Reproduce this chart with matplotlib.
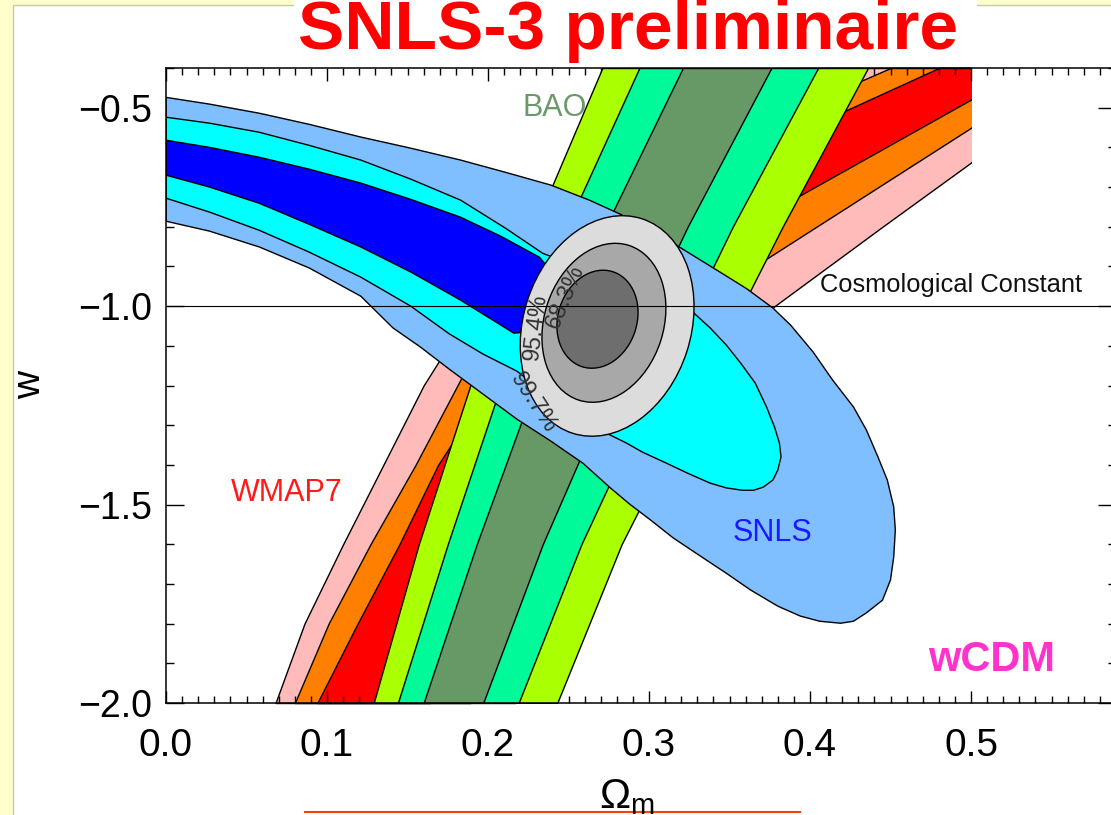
import numpy as np
import matplotlib.pyplot as plt
from matplotlib import font_manager
from matplotlib.lines import Line2D
from matplotlib.patches import Ellipse, Rectangle
from matplotlib.ticker import MultipleLocator
from matplotlib.transforms import Affine2D

# ---- values (Omega_m, w) ----
# BAO bands: Omega_m of each boundary at the given w levels
bao_w = [-2.0, -1.6, -1.2, -0.8, -0.4]
bao_997_lo = [0.129, 0.157, 0.189, 0.229, 0.271]
bao_997_hi = [0.243, 0.283, 0.333, 0.383, 0.436]
bao_954_lo = [0.144, 0.175, 0.208, 0.249, 0.294]
bao_954_hi = [0.219, 0.258, 0.304, 0.352, 0.405]
bao_683_lo = [0.160, 0.193, 0.229, 0.273, 0.321]
bao_683_hi = [0.197, 0.234, 0.277, 0.324, 0.376]

# WMAP7 bands (grid stops at Omega_m = 0.5)
wmap_w = [-2.0, -1.8, -1.6, -1.4, -1.2, -1.0, -0.8, -0.6, -0.4]
wmap_997_lo = [0.068, 0.086, 0.110, 0.135, 0.160, 0.191, 0.270, 0.332, 0.394]
wmap_997_hi = [0.217, 0.235, 0.260, 0.294, 0.332, 0.378, 0.445, 0.513, 0.580]
wmap_954_lo = [0.080, 0.101, 0.127, 0.155, 0.181, 0.207, 0.276, 0.337, 0.450]
wmap_954_hi = [0.189, 0.208, 0.229, 0.254, 0.288, 0.327, 0.404, 0.481, 0.558]
wmap_683_lo = [0.094, 0.119, 0.145, 0.169, 0.201, 0.245, 0.294, 0.372, 0.480]
wmap_683_hi = [0.164, 0.189, 0.214, 0.245, 0.282, 0.332, 0.359, 0.447, 0.535]
wmap_om_max = 0.5

# SNLS contours (closed outlines)
snls_997_om = [0.000, 0.027, 0.058, 0.089, 0.121, 0.152, 0.183, 0.211, 0.239, 0.263,
               0.282, 0.304, 0.324, 0.344, 0.361, 0.377, 0.388, 0.402, 0.414, 0.427,
               0.435, 0.442, 0.448, 0.452, 0.453, 0.452, 0.450, 0.445, 0.435, 0.427,
               0.419, 0.406, 0.394, 0.380, 0.363, 0.348, 0.332, 0.315, 0.301, 0.288,
               0.276, 0.259, 0.239, 0.218, 0.197, 0.176, 0.158, 0.141, 0.121, 0.089,
               0.058, 0.027, 0.000]
snls_997_w = [-0.474, -0.491, -0.514, -0.542, -0.574, -0.602, -0.632, -0.663, -0.695, -0.733,
              -0.768, -0.814, -0.864, -0.914, -0.957, -1.005, -1.048, -1.116, -1.186, -1.254,
              -1.312, -1.378, -1.438, -1.506, -1.564, -1.632, -1.690, -1.741, -1.773, -1.794,
              -1.799, -1.794, -1.781, -1.756, -1.715, -1.673, -1.630, -1.584, -1.539, -1.499,
              -1.458, -1.396, -1.340, -1.285, -1.222, -1.159, -1.103, -1.055, -0.975, -0.904,
              -0.851, -0.811, -0.786]
snls_954_om = [0.000, 0.027, 0.058, 0.089, 0.121, 0.152, 0.183, 0.211, 0.234, 0.270,
               0.324, 0.338, 0.348, 0.357, 0.366, 0.373, 0.378, 0.381, 0.382, 0.380,
               0.377, 0.371, 0.365, 0.358, 0.348, 0.338, 0.324, 0.311, 0.296, 0.286,
               0.276, 0.245, 0.218, 0.197, 0.176, 0.152, 0.121, 0.089, 0.058, 0.027,
               0.000]
snls_954_w = [-0.524, -0.539, -0.562, -0.595, -0.632, -0.680, -0.733, -0.804, -0.867, -0.922,
              -1.003, -1.055, -1.098, -1.144, -1.194, -1.254, -1.305, -1.345, -1.380, -1.413,
              -1.438, -1.456, -1.464, -1.464, -1.458, -1.446, -1.421, -1.396, -1.368, -1.345,
              -1.325, -1.249, -1.164, -1.121, -1.070, -1.000, -0.927, -0.864, -0.809, -0.763,
              -0.728]
snls_683_om = [0.000, 0.027, 0.058, 0.089, 0.121, 0.152, 0.183, 0.208, 0.232, 0.254,
               0.239, 0.216, 0.183, 0.152, 0.121, 0.089, 0.058, 0.027, 0.000]
snls_683_w = [-0.582, -0.600, -0.625, -0.655, -0.690, -0.731, -0.776, -0.824, -0.877, -0.985,
              -1.061, -1.068, -0.985, -0.914, -0.851, -0.794, -0.741, -0.700, -0.670]

# SNLS+BAO+WMAP7 ellipses: centre, full axes (in Omega_m units), tilt in degrees
comb_om = [0.274, 0.272, 0.268]
comb_w = [-1.050, -1.042, -1.033]
comb_major = [0.140, 0.101, 0.062]
comb_minor = [0.104, 0.074, 0.049]
comb_tilt = 72
comb_labels = ['99.7%', '95.4%', '68.3%']

xticks = [0.0, 0.1, 0.2, 0.3, 0.4, 0.5]
xtick_labels = ['0.0', '0.1', '0.2', '0.3', '0.4', '0.5']
yticks = [-2.0, -1.5, -1.0, -0.5]
ytick_labels = ['\u22122.0', '\u22121.5', '\u22121.0', '\u22120.5']

names = {f.name for f in font_manager.fontManager.ttflist}
if 'Liberation Sans Narrow' in names:
    NARROW, nscale = 'Liberation Sans Narrow', 1.0
else:
    NARROW, nscale = 'Liberation Sans', 0.85
SANS = 'Liberation Sans'

W, H = 1111, 815
fig = plt.figure(figsize=(W / 100, H / 100), dpi=100, facecolor='#ffffcc')

# slide: pasted white picture, white title box
fig.add_artist(Rectangle((13 / W, -0.01), 1.0, (H - 5) / H + 0.01, transform=fig.transFigure,
                         facecolor='white', edgecolor='#c8c8aa', lw=1.0, zorder=-5))
fig.add_artist(Rectangle((294 / W, (H - 62) / H), (977 - 294) / W, 62 / H, transform=fig.transFigure,
                         facecolor='white', edgecolor='none', zorder=-4))

xmax, ymin, ymax = 0.59, -2.0, -0.4
ax = fig.add_axes([166 / W, (H - 703) / H, xmax * 1610 / W, (703 - 68) / H])
ax.set_xlim(0, xmax)
ax.set_ylim(ymin, ymax)
ax.set_facecolor('white')

edge = dict(edgecolor='black', linewidth=1.0)

# WMAP7
clip = Rectangle((0, -3), wmap_om_max, 3, transform=ax.transData)
for lo, hi, col in [(wmap_997_lo, wmap_997_hi, '#ffbaba'),
                    (wmap_954_lo, wmap_954_hi, '#ff8000'),
                    (wmap_683_lo, wmap_683_hi, '#ff0000')]:
    pc = ax.fill_betweenx(wmap_w, lo, hi, facecolor=col, zorder=1, **edge)
    pc.set_clip_path(clip)

# BAO
for lo, hi, col in [(bao_997_lo, bao_997_hi, '#aaff00'),
                    (bao_954_lo, bao_954_hi, '#00fa9a'),
                    (bao_683_lo, bao_683_hi, '#669966')]:
    ax.fill_betweenx(bao_w, lo, hi, facecolor=col, zorder=2, **edge)

# SNLS
for om, w, col in [(snls_997_om, snls_997_w, '#7fbfff'),
                   (snls_954_om, snls_954_w, '#00ffff'),
                   (snls_683_om, snls_683_w, '#0000ff')]:
    ax.fill(om, w, facecolor=col, zorder=3, joinstyle='round', **edge)

# combined: ellipses drawn in a frame with equal screen scale on both axes
pos = ax.get_position()
k = (pos.width * W / xmax) / (pos.height * H / (ymax - ymin))
iso = Affine2D().scale(1, k) + ax.transData
for om, w, a, b, col in zip(comb_om, comb_w, comb_major, comb_minor,
                            ['#dcdcdc', '#a8a8a8', '#6e6e6e']):
    ax.add_patch(Ellipse((om, w / k), a, b, angle=comb_tilt, transform=iso,
                         facecolor=col, zorder=4, **edge))

ax.axhline(-1.0, color='black', lw=0.8, zorder=5)

lab = dict(fontsize=17, color='#333333', family=SANS, ha='center', va='center', zorder=6)
ax.text(0.2280, -1.244, comb_labels[0], rotation=-57, **lab)
ax.text(0.2298, -1.053, comb_labels[1], rotation=83, **lab)
ax.text(0.2478, -0.977, comb_labels[2], rotation=67, **lab)

ax.text(0.2416, -0.501, 'BAO', fontsize=22, color='#6a9a6a', family=SANS,
        ha='center', va='center', zorder=6)
ax.text(0.0752, -1.471, 'WMAP7', fontsize=22, color='#ff1a1a', family=SANS,
        ha='center', va='center', zorder=6)
ax.text(0.3764, -1.572, 'SNLS', fontsize=22, color='#1a1aff', family=SANS,
        ha='center', va='center', zorder=6)
ax.text(0.406, -0.947, 'Cosmological Constant', fontsize=18.4, color='#111111',
        family=SANS, ha='left', va='center', zorder=6)
ax.text(0.513, -1.892, 'wCDM', fontsize=30, color='#ff33cc', fontweight='bold',
        family=SANS, ha='center', va='center', zorder=6)

# axes styling
for s in ax.spines.values():
    s.set_linewidth(1.1)
    s.set_zorder(7)
ax.set_xticks(xticks, labels=xtick_labels)
ax.set_yticks(yticks, labels=ytick_labels)
ax.xaxis.set_minor_locator(MultipleLocator(0.01))
ax.yaxis.set_minor_locator(MultipleLocator(0.1))
ax.tick_params(which='both', direction='in', top=True, right=True, width=1.0, color='black')
ax.tick_params(axis='x', which='major', length=9, pad=18)
ax.tick_params(axis='x', which='minor', length=5)
ax.tick_params(axis='y', which='major', length=13, pad=10)
ax.tick_params(axis='y', which='minor', length=6)
for t in ax.get_xticklabels():
    t.set_fontfamily(NARROW)
    t.set_fontsize(33 * nscale)
for t in ax.get_yticklabels():
    t.set_fontfamily(SANS)
    t.set_fontsize(27)

fig.text(30 / W, 1 - 385 / H, 'w', rotation=90, fontsize=28, family=SANS,
         ha='center', va='center')
fig.text(627 / W, 1 - 808 / H, r'$\mathregular{\Omega_m}$', fontsize=30 * nscale / 0.85 if nscale < 1 else 30,
         family=NARROW, ha='center', va='baseline')

fig.text(628 / W, 1 - 49 / H, 'SNLS-3 preliminaire', fontsize=50 if nscale < 1 else 58,
         fontweight='bold', color='red', family=NARROW, ha='center', va='baseline')
fig.add_artist(Line2D([305 / W, 800 / W], [1 - 812 / H] * 2, color='#ff4000', lw=1.5))

fig.savefig('out.png', dpi=100, facecolor=fig.get_facecolor())
